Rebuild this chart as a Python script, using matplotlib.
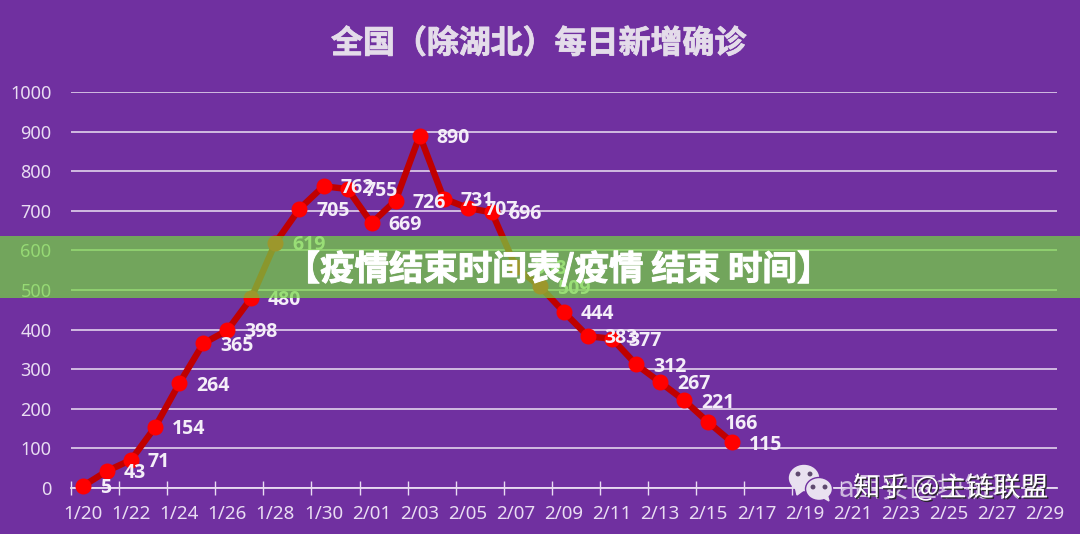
import matplotlib
matplotlib.use('Agg')
import matplotlib.pyplot as plt
import matplotlib.patheffects as pe
from matplotlib.patches import Rectangle, Ellipse, Polygon
from matplotlib.transforms import IdentityTransform
import numpy as np

plt.rcParams['font.family'] = ['Noto Sans', 'Noto Sans CJK SC', 'DejaVu Sans']

dates = ['1/20', '1/21', '1/22', '1/23', '1/24', '1/25', '1/26', '1/27', '1/28', '1/29', '1/30', '1/31',
         '2/01', '2/02', '2/03', '2/04', '2/05', '2/06', '2/07', '2/08', '2/09', '2/10', '2/11', '2/12',
         '2/13', '2/14', '2/15', '2/16', '2/17', '2/18', '2/19', '2/20', '2/21', '2/22', '2/23', '2/24',
         '2/25', '2/26', '2/27', '2/28', '2/29']
cases = [5, 43, 71, 154, 264, 365, 398, 480, 619, 705, 762, 755, 669, 726, 890, 731, 707, 696, 558, 509,
         444, 383, 377, 312, 267, 221, 166, 115]
yticks = [0, 100, 200, 300, 400, 500, 600, 700, 800, 900, 1000]

W, H = 1080, 534
purple = '#7030A0'
light = '#E9DDF2'
cjk = ['Noto Sans CJK SC', 'DejaVu Sans']

fig = plt.figure(figsize=(W / 100, H / 100), dpi=100, facecolor=purple)
ax = fig.add_axes([71 / W, (H - 488) / H, 986 / W, 396 / H], facecolor=purple)

x = np.arange(len(dates))
ax.plot(x[:len(cases)], cases, color='#C00000', lw=4.6, marker='o', ms=10.5, mfc='#FF0000', mec='#FF0000',
        clip_on=False, zorder=3)
for i, v in enumerate(cases):
    ax.annotate(str(v), (i, v), xytext=(12, -1.5), textcoords='offset points', ha='left', va='center',
                color='#F4EEF8', fontsize=14, fontweight='bold', family=['Open Sans', 'DejaVu Sans'], zorder=4)

ax.set_xlim(-0.5, len(dates) - 0.5)
ax.set_ylim(0, 1000)
ax.set_yticks(yticks)
ax.set_xticks(x[::2] - 0.5)
ax.set_xticklabels([])
ax.set_xticks(x[::2], dates[::2], minor=True)
ax.tick_params(axis='x', which='major', direction='inout', length=9.5, width=1, color=light)
ax.tick_params(axis='x', which='minor', length=0, pad=12, labelsize=13.5, labelcolor=light)
ax.tick_params(axis='y', length=0, pad=14, labelsize=13, labelcolor=light)
ax.grid(axis='y', color='#D9C6E6', lw=1.3)
ax.set_axisbelow(True)
for name in ['top', 'right', 'left']:
    ax.spines[name].set_visible(False)
ax.spines['bottom'].set_color(light)
ax.spines['bottom'].set_linewidth(1.3)

fig.text(539 / W, (H - 44) / H, '全国（除湖北）每日新增确诊', ha='center', va='center', color='#E4DCEA',
         fontsize=23, fontweight='bold', family=cjk,
         path_effects=[pe.withStroke(linewidth=0.6, foreground='#E4DCEA')])

# wechat icon + watermark, bottom right
px = IdentityTransform()
icon = '#E9E1F0'
fig.add_artist(Ellipse((804, H - 478), 29, 25, color=icon, transform=px, zorder=5))
fig.add_artist(Polygon([(795, H - 486), (797, H - 495), (805, H - 489)], color=icon, transform=px, zorder=5))
fig.add_artist(Ellipse((819, H - 489), 27, 23, fc=icon, ec=purple, lw=1, transform=px, zorder=5))
fig.add_artist(Polygon([(822, H - 497), (829, H - 501), (827, H - 494)], color=icon, transform=px, zorder=5))
for ex, ey in [(798, 474), (810, 474), (813, 487), (825, 487)]:
    fig.add_artist(Ellipse((ex, H - ey), 3.5, 3.5, color='#5F4A70', transform=px, zorder=6))
fig.text(838 / W, (H - 488) / H, 'a西安区块链联盟', ha='left', va='center', color='#CDB8DE', fontsize=20,
         family=cjk, zorder=6)
fig.text(853 / W, (H - 488) / H, '知乎 @主链联盟', ha='left', va='center', color='white', fontsize=19.6, family=cjk,
         zorder=7, path_effects=[pe.withSimplePatchShadow(offset=(1, -1), shadow_rgbFace='#222222', alpha=0.9)])

# translucent banner over the chart
fig.add_artist(Rectangle((0, (H - 298) / H), 1, 62 / H, transform=fig.transFigure, fc='#73D83F', alpha=0.7,
                         ec='none', zorder=8))
fig.text(559 / W, (H - 269) / H, '【疫情结束时间表/疫情 结束 时间】', ha='center', va='center', color='white',
         fontsize=24.8, fontweight='bold', family=cjk, zorder=9,
         path_effects=[pe.withStroke(linewidth=0.7, foreground='white')])

fig.savefig('out.png', dpi=100, facecolor=purple)
